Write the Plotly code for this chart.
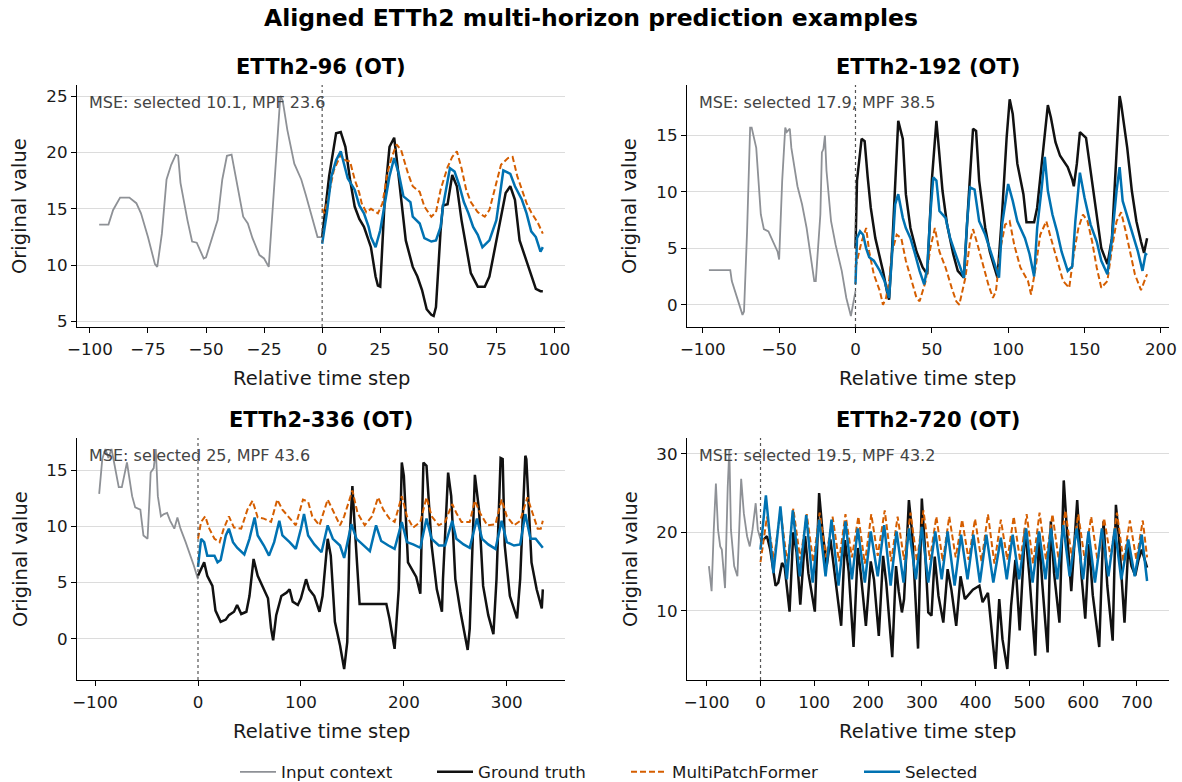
import plotly.graph_objects as go

# ---------------- data (vertices) ----------------
# Horizon 96
H96_CTX_T = [-96, -92, -90, -87, -83, -80, -78, -75, -72, -71, -69, -67, -65, -63, -62, -61, -58, -56, -54, -51, -50, -45, -43, -41, -39, -37, -34, -32, -30, -27, -25, -23, -21, -18, -17, -15, -12, -9, -7, -4, -2, 0]
H96_CTX_Y = [13.6, 13.6, 14.9, 16.0, 16.0, 15.5, 14.6, 12.5, 10.1, 9.85, 12.8, 17.6, 18.9, 19.8, 19.7, 17.3, 14.0, 12.1, 12.0, 10.6, 10.7, 14.0, 17.6, 19.7, 19.8, 17.6, 14.3, 13.7, 12.4, 10.9, 10.6, 9.85, 16.1, 25.0, 24.6, 22.0, 19.0, 17.6, 16.2, 14.0, 12.5, 12.5]
H96_GT_T = [0, 3, 6, 8, 10, 12, 14, 16, 18, 21, 23, 24, 25, 27, 29, 31, 32, 34, 36, 39, 41, 43, 45, 47, 48, 49, 51, 52, 54, 56, 58, 60, 62, 64, 67, 70, 72, 75, 77, 79, 81, 83, 85, 88, 90, 92, 94, 95]
H96_GT_Y = [12.5, 17.9, 21.7, 21.8, 20.5, 17.6, 15.2, 14.1, 13.4, 11.6, 9.0, 8.2, 8.1, 16.1, 20.5, 21.3, 19.6, 16.1, 12.2, 9.85, 9.0, 7.8, 6.1, 5.6, 5.5, 6.3, 13.1, 15.3, 15.4, 18.0, 17.0, 14.0, 11.6, 9.3, 8.1, 8.1, 9.0, 12.2, 14.0, 16.4, 17.0, 15.8, 12.2, 10.4, 9.0, 7.9, 7.7, 7.7]
H96_MPF_T = [0, 1, 3, 5, 8, 10, 12, 14, 16, 17, 19, 21, 24, 26, 28, 30, 32, 34, 37, 39, 42, 44, 47, 49, 51, 54, 56, 58, 60, 62, 64, 67, 70, 72, 75, 77, 80, 82, 84, 86, 88, 90, 93, 95]
H96_MPF_Y = [15.0, 14.6, 16.4, 18.4, 19.8, 19.3, 19.2, 17.6, 16.4, 15.5, 14.7, 15.0, 14.6, 15.5, 18.1, 19.6, 20.7, 20.2, 18.1, 17.0, 16.5, 15.2, 14.3, 14.7, 16.7, 18.7, 19.6, 20.1, 18.6, 16.7, 15.6, 14.7, 14.3, 14.9, 17.3, 18.9, 19.5, 19.6, 17.9, 16.7, 15.5, 14.7, 13.7, 12.8]
H96_SEL_T = [0, 2, 4, 6, 8, 9, 11, 14, 16, 18, 20, 21, 23, 25, 27, 29, 31, 33, 35, 38, 39, 42, 44, 47, 49, 51, 52, 55, 57, 59, 61, 63, 65, 67, 69, 72, 75, 77, 78, 81, 83, 86, 88, 90, 92, 94, 95]
H96_SEL_Y = [11.9, 14.6, 17.9, 19.3, 20.1, 19.3, 17.7, 16.7, 15.3, 14.6, 13.4, 12.5, 11.6, 13.1, 15.5, 17.9, 19.5, 18.1, 16.1, 15.6, 14.3, 13.7, 12.4, 12.1, 12.2, 13.4, 15.2, 18.6, 18.3, 17.1, 15.6, 14.6, 13.4, 12.7, 11.6, 12.2, 14.0, 16.7, 18.4, 18.1, 17.0, 15.8, 14.6, 13.0, 12.5, 11.2, 11.6]

# Horizon 192
H192_CTX_T = [-96, -82, -81, -77, -74, -73, -71, -69, -68, -65, -62, -60, -57, -54, -51, -50, -48, -46, -45, -43, -42, -38, -35, -32, -29, -27, -26, -23, -22, -21, -20, -19, -16, -13, -9, -6, -3, -1, 0]
H192_CTX_Y = [3.06, 3.06, 2.1, 0.45, -0.9, -0.6, 6.5, 15.7, 15.7, 13.9, 8.0, 6.7, 6.5, 5.6, 4.7, 4.0, 11.0, 15.7, 15.3, 15.6, 13.9, 10.5, 8.9, 6.8, 4.2, 2.1, 2.1, 8.0, 13.5, 13.8, 15.0, 11.9, 7.4, 5.3, 3.0, 0.6, -1.0, 0.6, 1.2]
H192_GT_T = [0, 1, 4, 6, 8, 10, 13, 18, 21, 22, 24, 26, 28, 31, 33, 36, 40, 44, 47, 50, 53, 54, 57, 60, 64, 67, 71, 74, 77, 79, 81, 85, 88, 91, 93, 96, 99, 101, 103, 106, 110, 112, 117, 119, 123, 126, 128, 131, 134, 139, 142, 143, 145, 147, 151, 154, 158, 161, 165, 168, 170, 173, 174, 178, 181, 184, 187, 189, 191]
H192_GT_Y = [5.0, 11.0, 14.7, 14.5, 11.3, 8.6, 5.9, 3.0, 0.9, 0.45, 5.0, 11.0, 16.3, 14.7, 9.8, 6.8, 4.7, 3.3, 2.7, 11.0, 16.3, 14.8, 10.1, 7.1, 4.5, 3.0, 2.4, 9.2, 15.6, 15.4, 11.0, 6.8, 4.7, 3.3, 2.4, 8.0, 14.8, 18.2, 16.9, 12.5, 9.8, 7.3, 7.3, 8.6, 13.9, 17.7, 16.6, 14.4, 13.2, 12.2, 11.1, 10.5, 12.5, 15.3, 14.8, 11.9, 8.0, 5.0, 3.6, 5.9, 11.0, 18.5, 17.8, 13.9, 10.1, 7.4, 5.6, 4.6, 5.9]
H192_MPF_T = [0, 4, 7, 9, 12, 16, 18, 20, 22, 24, 27, 30, 33, 37, 40, 42, 46, 49, 52, 55, 59, 63, 66, 68, 72, 75, 77, 80, 84, 87, 90, 92, 95, 98, 101, 104, 108, 113, 115, 118, 121, 125, 128, 132, 136, 140, 143, 146, 149, 152, 155, 158, 161, 165, 168, 171, 174, 177, 180, 183, 187, 191]
H192_MPF_Y = [3.3, 5.6, 6.8, 4.7, 2.7, 1.2, 0.0, 0.6, 2.1, 4.7, 6.2, 5.9, 3.9, 2.1, 0.6, 0.3, 2.1, 5.0, 6.8, 4.7, 3.3, 1.5, 0.3, 0.0, 2.4, 5.6, 6.7, 5.3, 3.3, 1.8, 0.6, 1.2, 5.0, 7.1, 7.4, 5.3, 3.3, 2.1, 0.9, 3.3, 6.2, 7.4, 5.9, 3.9, 2.1, 1.5, 4.5, 6.8, 8.0, 7.4, 5.6, 3.3, 1.5, 2.1, 5.0, 7.4, 8.2, 6.5, 4.5, 2.7, 1.3, 2.7]
H192_SEL_T = [0, 1, 3, 5, 7, 9, 12, 16, 19, 22, 24, 26, 28, 31, 33, 36, 39, 42, 45, 47, 49, 51, 53, 55, 59, 62, 65, 68, 71, 73, 75, 78, 81, 85, 88, 91, 94, 96, 100, 103, 106, 111, 114, 117, 119, 122, 124, 126, 129, 132, 135, 139, 142, 144, 147, 150, 154, 158, 161, 165, 168, 171, 173, 175, 179, 182, 185, 188, 190, 191]
H192_SEL_Y = [1.8, 5.9, 6.5, 6.2, 5.0, 4.2, 3.9, 3.0, 2.1, 0.6, 4.5, 8.9, 9.8, 7.7, 6.8, 5.9, 4.5, 3.0, 1.8, 3.3, 8.0, 11.3, 11.0, 8.3, 7.7, 5.9, 4.7, 3.6, 2.4, 7.1, 10.4, 10.2, 7.4, 6.2, 5.0, 3.6, 2.4, 7.1, 10.7, 9.2, 7.4, 5.9, 4.5, 2.5, 6.8, 10.4, 13.1, 10.1, 8.0, 6.5, 4.7, 3.0, 3.4, 7.4, 11.7, 9.5, 7.1, 5.6, 3.9, 2.7, 5.9, 10.1, 12.2, 9.2, 7.4, 5.9, 4.7, 3.0, 4.5, 4.4]

# Horizon 336
H336_CTX_T = [-96, -93, -90, -87, -84, -80, -77, -74, -71, -69, -67, -64, -61, -56, -53, -49, -47, -46, -43, -41, -39, -36, -33, -30, -27, -23, -20, -17, -12, -7, -4, 0]
H336_CTX_Y = [12.9, 16.0, 16.9, 16.1, 16.9, 15.1, 13.5, 13.5, 14.8, 15.7, 14.5, 12.7, 11.7, 11.5, 9.2, 8.9, 12.7, 14.8, 15.2, 16.9, 12.7, 10.9, 11.1, 11.2, 10.5, 9.8, 10.8, 9.8, 8.6, 7.4, 6.5, 5.3]
H336_GT_T = [0, 3, 6, 9, 14, 17, 22, 27, 30, 35, 38, 42, 47, 50, 54, 58, 63, 68, 71, 73, 76, 81, 86, 89, 92, 97, 100, 105, 108, 113, 118, 121, 126, 129, 133, 138, 142, 145, 147, 150, 152, 157, 183, 186, 191, 195, 198, 200, 204, 208, 212, 216, 219, 222, 227, 232, 237, 238, 243, 246, 250, 255, 262, 264, 269, 273, 277, 282, 287, 290, 294, 296, 298, 303, 310, 313, 318, 319, 324, 329, 334, 335]
H336_GT_Y = [5.6, 6.2, 6.8, 5.6, 4.7, 2.5, 1.5, 1.7, 2.1, 2.4, 3.0, 2.2, 2.4, 3.8, 7.1, 5.6, 4.6, 3.6, 0.9, -0.15, 2.1, 3.8, 4.1, 4.4, 3.3, 3.0, 3.6, 5.3, 4.4, 3.8, 2.4, 3.8, 8.9, 7.4, 1.5, -0.6, -2.7, -0.3, 8.3, 13.6, 10.4, 3.1, 3.1, 1.8, -0.9, 4.4, 15.7, 14.5, 6.8, 6.2, 5.5, 4.0, 15.7, 15.4, 8.3, 4.4, 2.4, 5.3, 14.8, 12.7, 5.3, 2.4, -1.0, 0.9, 14.6, 11.5, 4.7, 2.1, 0.4, 5.3, 16.1, 16.0, 8.3, 3.8, 1.8, 5.3, 16.3, 16.0, 6.8, 4.4, 2.7, 4.4]
H336_MPF_T = [0, 3, 7, 11, 16, 21, 25, 30, 35, 42, 48, 53, 58, 64, 71, 77, 82, 89, 95, 102, 107, 111, 118, 126, 131, 138, 142, 150, 155, 162, 169, 175, 180, 186, 191, 198, 203, 209, 216, 222, 227, 234, 240, 247, 251, 256, 264, 269, 274, 281, 289, 295, 300, 307, 313, 320, 325, 330, 333, 335]
H336_MPF_Y = [8.9, 10.4, 10.9, 9.8, 8.9, 8.6, 9.8, 10.9, 9.9, 9.8, 11.5, 12.3, 10.8, 10.7, 10.4, 12.4, 11.5, 10.7, 10.1, 12.4, 12.2, 10.9, 10.1, 12.4, 11.4, 10.1, 10.9, 13.2, 11.2, 10.1, 10.9, 12.6, 11.5, 10.7, 10.4, 12.7, 10.9, 9.9, 10.4, 12.6, 10.9, 10.1, 10.4, 12.0, 11.2, 10.4, 10.4, 12.3, 11.2, 10.1, 10.2, 12.4, 10.9, 10.1, 10.5, 12.6, 11.2, 9.8, 9.8, 10.5]
H336_SEL_T = [0, 3, 6, 9, 16, 19, 22, 27, 30, 34, 38, 45, 50, 55, 58, 64, 69, 74, 79, 82, 89, 95, 100, 103, 107, 113, 120, 126, 131, 138, 142, 149, 154, 160, 167, 173, 178, 185, 191, 198, 203, 209, 216, 222, 227, 234, 240, 247, 251, 258, 264, 271, 276, 282, 289, 295, 300, 307, 313, 318, 323, 328, 333, 335]
H336_SEL_Y = [6.4, 8.9, 8.6, 7.4, 7.4, 6.8, 7.0, 9.2, 9.8, 8.6, 8.1, 7.5, 8.9, 10.8, 9.2, 8.3, 7.4, 8.6, 10.5, 9.2, 8.6, 8.0, 9.8, 11.1, 9.2, 8.4, 7.7, 10.1, 8.9, 8.3, 7.2, 10.2, 8.9, 8.4, 7.8, 10.1, 8.7, 8.3, 8.0, 10.4, 8.6, 8.4, 8.1, 10.7, 8.9, 8.3, 8.3, 10.5, 8.9, 8.4, 8.1, 10.7, 8.9, 8.4, 8.0, 10.5, 8.6, 8.3, 8.4, 11.1, 8.9, 8.9, 8.3, 8.1]

# Horizon 720
H720_CTX_T = [-96, -91, -87, -83, -79, -75, -72, -66, -61, -58, -55, -49, -43, -36, -31, -25, -20, -15, -9, -5, 0]
H720_CTX_Y = [15.7, 12.5, 20.3, 26.2, 20.3, 18.2, 17.8, 12.9, 25.8, 30.6, 20.3, 15.7, 14.4, 26.8, 22.4, 19.5, 18.2, 20.3, 23.7, 20.3, 19.1]
H720_GT_T = [0, 6, 12, 18, 28, 33, 40, 45, 54, 61, 67, 74, 83, 89, 101, 109, 115, 123, 130, 141, 150, 157, 164, 173, 181, 187, 196, 205, 211, 220, 228, 234, 245, 252, 257, 263, 267, 276, 282, 293, 300, 306, 312, 318, 324, 331, 340, 348, 355, 364, 372, 380, 389, 395, 407, 413, 423, 429, 437, 444, 450, 459, 466, 474, 482, 492, 500, 511, 518, 524, 534, 540, 546, 556, 564, 571, 578, 589, 597, 604, 611, 618, 630, 638, 645, 655, 661, 667, 677, 684, 690, 697, 703, 709, 719]
H720_GT_Y = [19.1, 19.1, 19.5, 17.8, 13.2, 13.6, 16.1, 15.5, 9.9, 20.0, 17.5, 10.8, 19.5, 14.8, 9.9, 25.0, 20.3, 15.7, 19.1, 13.2, 8.1, 19.0, 15.0, 5.4, 18.0, 14.4, 8.1, 16.3, 14.0, 6.8, 17.0, 13.5, 4.1, 15.7, 12.5, 9.8, 11.5, 24.1, 19.9, 5.2, 24.3, 17.8, 9.8, 9.4, 16.9, 11.9, 8.5, 15.3, 12.7, 8.1, 14.4, 11.5, 12.3, 12.7, 13.2, 11.1, 12.3, 8.5, 2.6, 11.5, 6.4, 2.6, 10.6, 16.5, 7.5, 20.5, 14.5, 4.3, 19.9, 13.5, 4.7, 21.4, 14.8, 8.5, 26.6, 19.1, 12.5, 24.1, 14.5, 9.0, 18.5, 12.0, 5.4, 21.4, 13.2, 6.2, 23.5, 19.1, 8.5, 18.2, 15.7, 14.5, 16.5, 17.8, 15.5]
H720_MPF_T = [0, 12, 25, 37, 50, 61, 74, 86, 98, 110, 122, 134, 146, 158, 170, 182, 194, 206, 218, 231, 243, 255, 267, 279, 291, 303, 315, 327, 339, 351, 363, 375, 387, 399, 411, 423, 435, 447, 459, 471, 483, 495, 507, 519, 531, 543, 555, 567, 579, 591, 603, 615, 627, 639, 651, 663, 675, 687, 699, 711, 719]
H720_MPF_Y = [16.2, 22.0, 16.5, 22.8, 16.0, 23.0, 16.5, 22.3, 16.2, 22.5, 16.8, 22.0, 16.3, 22.3, 16.8, 22.0, 16.0, 22.3, 17.0, 22.8, 16.3, 22.0, 16.5, 22.5, 16.3, 22.8, 16.5, 22.0, 16.3, 22.0, 16.8, 21.6, 16.5, 21.7, 16.3, 22.3, 16.0, 21.6, 16.5, 22.0, 16.3, 22.3, 16.0, 22.5, 16.5, 22.3, 16.3, 22.8, 16.8, 22.3, 16.5, 22.0, 16.3, 21.8, 16.8, 22.5, 16.3, 21.5, 16.5, 21.5, 16.8]
H720_SEL_T = [0, 10, 24, 37, 49, 60, 73, 85, 97, 109, 121, 132, 145, 158, 170, 181, 194, 205, 218, 230, 242, 253, 266, 276, 289, 300, 312, 325, 337, 348, 361, 373, 385, 396, 408, 420, 433, 447, 458, 469, 481, 494, 506, 518, 530, 540, 552, 563, 575, 588, 600, 610, 622, 635, 647, 659, 671, 684, 696, 709, 719]
H720_SEL_Y = [17.8, 24.7, 14.8, 23.3, 14.0, 22.8, 14.4, 22.2, 13.6, 21.6, 14.4, 21.6, 13.2, 21.4, 14.0, 20.5, 13.6, 20.1, 14.4, 20.9, 13.2, 20.1, 13.6, 20.5, 14.0, 20.7, 13.6, 20.1, 14.0, 20.1, 13.2, 19.7, 14.0, 19.7, 13.6, 19.7, 13.6, 19.3, 14.0, 19.7, 14.0, 20.5, 13.6, 20.1, 14.0, 20.5, 14.0, 20.9, 14.4, 20.5, 14.0, 20.1, 13.6, 20.5, 14.4, 20.5, 14.0, 19.1, 14.4, 19.7, 13.8]

TITLES = ["ETTh2-96 (OT)", "ETTh2-192 (OT)", "ETTh2-336 (OT)", "ETTh2-720 (OT)"]
MSE_SEL = ["10.1", "17.9", "25", "19.5"]
MSE_MPF = ["23.6", "38.5", "43.6", "43.2"]
X_TICKS = [[-100, -75, -50, -25, 0, 25, 50, 75, 100],
           [-100, -50, 0, 50, 100, 150, 200],
           [-100, 0, 100, 200, 300],
           [-100, 0, 100, 200, 300, 400, 500, 600, 700]]
Y_TICKS = [[5, 10, 15, 20, 25], [0, 5, 10, 15], [0, 5, 10, 15], [10, 20, 30]]
SERIES_NAMES = ["Input context", "Ground truth", "MultiPatchFormer", "Selected"]

PANELS = [
    [(H96_CTX_T, H96_CTX_Y), (H96_GT_T, H96_GT_Y), (H96_MPF_T, H96_MPF_Y), (H96_SEL_T, H96_SEL_Y)],
    [(H192_CTX_T, H192_CTX_Y), (H192_GT_T, H192_GT_Y), (H192_MPF_T, H192_MPF_Y), (H192_SEL_T, H192_SEL_Y)],
    [(H336_CTX_T, H336_CTX_Y), (H336_GT_T, H336_GT_Y), (H336_MPF_T, H336_MPF_Y), (H336_SEL_T, H336_SEL_Y)],
    [(H720_CTX_T, H720_CTX_Y), (H720_GT_T, H720_GT_Y), (H720_MPF_T, H720_MPF_Y), (H720_SEL_T, H720_SEL_Y)],
]

# ---------------- styling ----------------
W, H = 1182, 782
FONT = "DejaVu Sans"
STYLES = [
    dict(color="#8E9196", width=1.8, dash="solid"),
    dict(color="#111111", width=2.5, dash="solid"),
    dict(color="#D55E00", width=2.0, dash="6px,3px"),
    dict(color="#0072B2", width=2.5, dash="solid"),
]
# legend text-area widths (px) so that entries are spaced like the reference
LEGEND_W = [146, 143, 182, 80]

# axes boxes in reference pixels: (left, right, top, bottom)
BOXES = [(77, 565, 85, 327), (687, 1169, 85, 327), (77, 565, 438, 680), (687, 1169, 438, 680)]


def yf(ypx):
    """reference pixel row -> paper fraction"""
    return 1 - ypx / H


fig = go.Figure()
annotations = []
shapes = []

for i, series in enumerate(PANELS):
    ax = "" if i == 0 else str(i + 1)
    xa, ya = "x" + ax, "y" + ax
    for j, (ts, vs) in enumerate(series):
        st = STYLES[j]
        fig.add_trace(go.Scatter(
            x=ts, y=vs, mode="lines", name=SERIES_NAMES[j],
            line=dict(color=st["color"], width=st["width"], dash=st["dash"]),
            xaxis=xa, yaxis=ya, showlegend=(i == 0), legendwidth=LEGEND_W[j],
            hoverinfo="skip"))

    all_t = [t for ts, _ in series for t in ts]
    all_v = [v for _, vs in series for v in vs]
    tmin, tmax = min(all_t), max(all_t)
    vmin, vmax = min(all_v), max(all_v)
    tpad, vpad = 0.05 * (tmax - tmin), 0.05 * (vmax - vmin)

    l, r, t, b = BOXES[i]
    xdom = [l / W, r / W]
    ydom = [yf(b), yf(t)]
    axis_common = dict(showline=True, linecolor="black", linewidth=1.2, ticks="outside",
                       ticklen=5, tickwidth=1.2, tickcolor="black", zeroline=False,
                       tickfont=dict(family=FONT, size=16.7, color="#1a1a1a"), automargin=False)
    fig.update_layout(**{
        "xaxis" + ax: dict(domain=xdom, range=[tmin - tpad, tmax + tpad], tickmode="array",
                           tickvals=X_TICKS[i], ticktext=[str(v).replace("-", "\u2212") for v in X_TICKS[i]],
                           showgrid=False, anchor=ya, ticklabelstandoff=2, **axis_common),
        "yaxis" + ax: dict(domain=ydom, range=[vmin - vpad, vmax + vpad], tickmode="array",
                           tickvals=Y_TICKS[i], showgrid=True, gridcolor="#DCDCDC", gridwidth=1,
                           anchor=xa, **axis_common),
    })

    shapes.append(dict(type="line", xref=xa, yref=ya + " domain", x0=0, x1=0, y0=0, y1=1,
                       line=dict(color="#555555", width=1.2, dash="dot"), layer="above"))

    xc = (l + r) / 2 / W
    annotations.append(dict(text=TITLES[i], x=xc, y=yf(t - 18), xref="paper", yref="paper",
                            xanchor="center", yanchor="middle", showarrow=False,
                            font=dict(family=FONT, size=21, color="black", weight="bold")))
    annotations.append(dict(text="Relative time step", x=xc, y=yf(b + 51), xref="paper", yref="paper",
                            xanchor="center", yanchor="middle", showarrow=False,
                            font=dict(family=FONT, size=19.5, color="#1a1a1a")))
    annotations.append(dict(text="Original value", x=(l - 57) / W, y=yf((t + b) / 2), xref="paper", yref="paper",
                            xanchor="center", yanchor="middle", showarrow=False, textangle=-90,
                            font=dict(family=FONT, size=19.5, color="#1a1a1a")))
    annotations.append(dict(text=f"MSE: selected {MSE_SEL[i]}, MPF {MSE_MPF[i]}",
                            x=0.02, y=0.975, xref=xa + " domain", yref=ya + " domain",
                            xanchor="left", yanchor="top", showarrow=False,
                            font=dict(family=FONT, size=16, color="#444444")))

fig.update_layout(
    width=W, height=H,
    margin=dict(l=0, r=0, t=0, b=0, autoexpand=False),
    paper_bgcolor="white", plot_bgcolor="white",
    font=dict(family=FONT, color="#1a1a1a"),
    title=dict(text="Aligned ETTh2 multi-horizon prediction examples", x=0.5, xanchor="center",
               y=yf(18), yanchor="middle",
               font=dict(family=FONT, size=23.5, color="black", weight="bold")),
    legend=dict(orientation="h", x=235 / W, xanchor="left", y=yf(772), yanchor="middle",
                font=dict(family=FONT, size=16.7, color="#1a1a1a"), bgcolor="rgba(0,0,0,0)",
                itemwidth=36, borderwidth=0),
    annotations=annotations,
    shapes=shapes,
)

PAGE_FIX = (
    "document.documentElement.style.margin='0';"
    "document.body.style.margin='0';"
    "document.documentElement.style.overflow='hidden';"
)

fig.write_html("out.html", config={"displayModeBar": False}, post_script=PAGE_FIX)
